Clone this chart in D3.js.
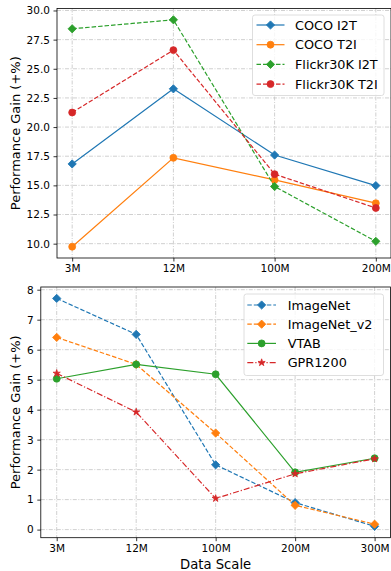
<!DOCTYPE html>
<html><head><meta charset="utf-8">
<script src="https://cdn.jsdelivr.net/npm/d3@7"></script>
<style>body{margin:0;background:#fff}svg{display:block}text{font-family:"DejaVu Sans",sans-serif}</style>
</head><body>
<svg id="c" width="391" height="571"></svg>
<script>
const topCats = ["3M","12M","100M","200M"];
const cocoI2T = [16.84, 23.28, 17.6, 14.98];
const cocoT2I = [9.74, 17.36, 15.47, 13.47];
const flickrI2T = [28.43, 29.2, 14.9, 10.2];
const flickrT2I = [21.25, 26.6, 15.96, 13.06];
const topTicks = [10.0, 12.5, 15.0, 17.5, 20.0, 22.5, 25.0, 27.5, 30.0];

const botCats = ["3M","12M","100M","200M","300M"];
const imagenet = [7.71, 6.51, 2.16, 0.9, 0.11];
const imagenetV2 = [6.41, 5.51, 3.22, 0.81, 0.18];
const vtab = [5.03, 5.51, 5.18, 1.91, 2.38];
const gpr1200 = [5.21, 3.92, 1.04, 1.86, 2.36];
const botTicks = [0,1,2,3,4,5,6,7,8];

const C = {blue:"#1f77b4", orange:"#ff7f0e", green:"#2ca02c", red:"#d62728"};
const svg = d3.select("#c");

function panel(o){
  const g = svg.append("g");
  const m = (o.x1-o.x0)*0.05/1.1;
  const x = d3.scalePoint().domain(o.cats).range([o.x0 + m, o.x1 - m]);
  const y = d3.scaleLinear().domain(o.ydom).range([o.y1, o.y0]);
  const grid = g.append("g").attr("stroke","#c4c4c4").attr("stroke-width",0.8).attr("stroke-dasharray","4,1.5,1,1.5").attr("fill","none");
  o.cats.forEach(c=>grid.append("line").attr("x1",x(c)).attr("x2",x(c)).attr("y1",o.y0).attr("y2",o.y1));
  o.yticks.forEach(t=>grid.append("line").attr("x1",o.x0).attr("x2",o.x1).attr("y1",y(t)).attr("y2",y(t)));
  o.series.forEach(s=>{
    const line = d3.line().x((d,i)=>x(o.cats[i])).y(d=>y(d));
    g.append("path").attr("d",line(s.values)).attr("fill","none").attr("stroke",s.color)
      .attr("stroke-width",1.2).attr("stroke-dasharray",s.dash||null);
    s.values.forEach((v,i)=>marker(g, x(o.cats[i]), y(v), s));
  });
  const ax = g.append("g").attr("transform",`translate(0,${o.y1})`).call(d3.axisBottom(x).tickSize(3.5).tickPadding(3.5));
  const ay = g.append("g").attr("transform",`translate(${o.x0},0)`).call(d3.axisLeft(y).tickValues(o.yticks).tickFormat(o.fmt).tickSize(3.5).tickPadding(3.5));
  [ax,ay].forEach(a=>{a.select(".domain").remove();a.selectAll("text").attr("font-size",10.5).attr("fill","#000").style("font-family","DejaVu Sans");a.selectAll("line").attr("stroke","#000").attr("stroke-width",0.8);});
  g.append("rect").attr("x",o.x0).attr("y",o.y0).attr("width",o.x1-o.x0).attr("height",o.y1-o.y0).attr("fill","none").attr("stroke","#000").attr("stroke-width",0.8);
  g.append("text").attr("transform",`translate(15,${(o.y0+o.y1)/2}) rotate(-90)`).attr("text-anchor","middle").attr("dominant-baseline","central").attr("font-size",13).text("Performance Gain (+%)");
  if(o.xlabel) g.append("text").attr("x",(o.x0+o.x1)/2).attr("y",o.y1+31.5).attr("text-anchor","middle").attr("font-size",13.2).text(o.xlabel);
  const L = o.leg;
  g.append("rect").attr("x",L.x).attr("y",L.y).attr("width",L.w).attr("height",L.h).attr("rx",2.5).attr("fill","#fff").attr("fill-opacity",0.8).attr("stroke","#d6d6d6").attr("stroke-width",0.8);
  o.series.forEach((s,i)=>{
    const yy = L.r0 + i*L.dy;
    g.append("line").attr("x1",L.lx0).attr("x2",L.lx1).attr("y1",yy).attr("y2",yy).attr("stroke",s.color).attr("stroke-width",1.2).attr("stroke-dasharray",s.dash||null);
    marker(g,(L.lx0+L.lx1)/2,yy,s);
    g.append("text").attr("x",L.tx).attr("y",yy).attr("dominant-baseline","central").attr("font-size",12.8).text(s.name);
  });
}
function marker(g,cx,cy,s){
  let sym, size;
  if(s.m==="D"){sym=d3.symbolSquare; size=34;}
  else if(s.m==="o"){sym=d3.symbolCircle; size=38;}
  else {sym=d3.symbolStar; size=16;}
  const p = g.append("path").attr("d",d3.symbol().type(sym).size(size)()).attr("fill",s.color).attr("stroke",s.color).attr("stroke-width",0.8);
  p.attr("transform",`translate(${cx},${cy})`+(s.m==="D"?" rotate(45)":""));
}

panel({
  cats: topCats, x0:57, x1:391, y0:8.5, y1:258,
  ydom:[8.77,30.17], yticks: topTicks, fmt: d3.format(".1f"),
  series:[
    {name:"COCO I2T", values:cocoI2T, color:C.blue, m:"D"},
    {name:"COCO T2I", values:cocoT2I, color:C.orange, m:"o"},
    {name:"Flickr30K I2T", values:flickrI2T, color:C.green, m:"D", dash:"4.5,2"},
    {name:"Flickr30K T2I", values:flickrT2I, color:C.red, m:"o", dash:"4.5,2"}
  ],
  leg:{x:252.5,y:15,w:131.5,h:80.5,r0:25,dy:19.7,lx0:256.5,lx1:284.5,tx:295}
});
panel({
  cats: botCats, x0:40.8, x1:390.5, y0:287, y1:537.7,
  ydom:[-0.27,8.09], yticks: botTicks, fmt: d3.format("d"),
  series:[
    {name:"ImageNet", values:imagenet, color:C.blue, m:"D", dash:"4.5,2"},
    {name:"ImageNet_v2", values:imagenetV2, color:C.orange, m:"D", dash:"4.5,2"},
    {name:"VTAB", values:vtab, color:C.green, m:"o"},
    {name:"GPR1200", values:gpr1200, color:C.red, m:"*", dash:"6,2,1.2,2"}
  ],
  xlabel:"Data Scale",
  leg:{x:244,y:294,w:139.5,h:81.5,r0:305,dy:19.2,lx0:247.3,lx1:276,tx:287.7}
});
</script>
</body></html>
